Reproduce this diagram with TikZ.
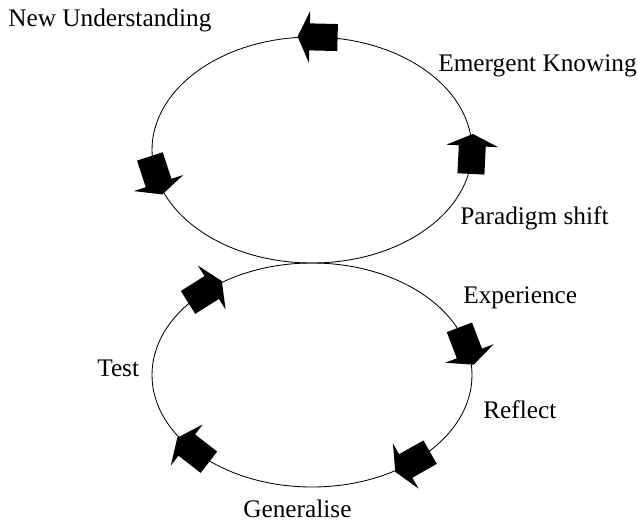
\documentclass[tikz,border=0pt]{standalone}
\usepackage{fontspec}
\setmainfont{Liberation Serif}
\usepackage{tikz}
\tikzset{
	x=0.025cm, y=0.025cm, % one unit is one pixel of the reference
	loop line/.style={line width=0.6pt}, % the two ellipses
	every node/.style={font=\fontsize{18}{21}\selectfont, inner sep=0pt, anchor=west}, % the labels
	flow/.pic={\fill (20,0) -- (8,26) -- (8,13.5) -- (-20,13.5) -- (-20,-13.5) -- (8,-13.5) -- (8,-26) -- cycle;}, % block arrow
}
\begin{document}
\begin{tikzpicture}
		\useasboundingbox (0,0) rectangle (637,521);

		\coordinate (up) at (312,371);
		\coordinate (lo) at (312,146);
		\draw[loop line] (up) ellipse [x radius=160, y radius=113];
		\draw[loop line] (lo) ellipse [x radius=160, y radius=112];

		% upper loop runs anticlockwise
		\foreach \t in {88,193,-2}
		{
			\pgfmathsetmacro{\dir}{atan2(113*cos(\t),-160*sin(\t))}
			\pic[rotate=\dir] at ({312+160*cos(\t)},{371+113*sin(\t)}) {flow};
		}

		% lower loop runs clockwise
		\foreach \t in {132,15,-51,222}
		{
			\pgfmathsetmacro{\dir}{atan2(-112*cos(\t),160*sin(\t))}
			\pic[rotate=\dir] at ({312+160*cos(\t)},{146+112*sin(\t)}) {flow};
		}

		\node (nu) at (8,501) {New Understanding};
		\node (ek) at (438,455) {Emergent Knowing};
		\node (ps) at (460,303) {Paradigm shift};
		\node (ex) at (463,223) {Experience};
		\node (te) at (97,153) {Test};
		\node (re) at (483,111) {Reflect};
		\node (ge) at (243,12) {Generalise};

	\end{tikzpicture}
\end{document}
